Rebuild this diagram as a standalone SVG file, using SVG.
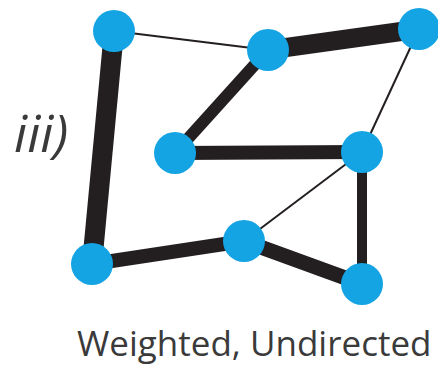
<svg xmlns="http://www.w3.org/2000/svg" width="438" height="368" viewBox="0 0 438 368">
  <style>
    .edge { stroke: #231f20; fill: none; stroke-linecap: butt; }
    .node circle { fill: #15a4e3; }
    .label { font-family: "Open Sans", "Liberation Sans", sans-serif; fill: #3a3a3a; }
  </style>
  <rect width="438" height="368" fill="#ffffff"/>
  <g id="connectors">
    <line class="edge" x1="114" y1="31" x2="268" y2="50" stroke-width="2"/>
    <line class="edge" x1="268" y1="50" x2="419" y2="29" stroke-width="19"/>
    <line class="edge" x1="419" y1="29" x2="362" y2="152" stroke-width="2"/>
    <line class="edge" x1="268" y1="50" x2="175" y2="153" stroke-width="12"/>
    <line class="edge" x1="175" y1="153" x2="362" y2="152" stroke-width="14"/>
    <line class="edge" x1="362" y1="152" x2="244" y2="241" stroke-width="2"/>
    <line class="edge" x1="362" y1="152" x2="362" y2="284" stroke-width="10"/>
    <line class="edge" x1="114" y1="31" x2="92" y2="264" stroke-width="20"/>
    <line class="edge" x1="92" y1="264" x2="244" y2="241" stroke-width="14"/>
    <line class="edge" x1="244" y1="241" x2="362" y2="284" stroke-width="15"/>
  </g>
  <g id="node-a" class="node"><circle cx="114" cy="31" r="21"/></g>
  <g id="node-b" class="node"><circle cx="268" cy="50" r="21"/></g>
  <g id="node-c" class="node"><circle cx="419" cy="29" r="21"/></g>
  <g id="node-d" class="node"><circle cx="175" cy="153" r="21"/></g>
  <g id="node-e" class="node"><circle cx="362" cy="152" r="21"/></g>
  <g id="node-f" class="node"><circle cx="92" cy="264" r="21"/></g>
  <g id="node-g" class="node"><circle cx="244" cy="241" r="21"/></g>
  <g id="node-h" class="node"><circle cx="362" cy="284" r="21"/></g>
  <text class="label" x="14" y="152" font-size="52" font-style="italic">iii)</text>
  <text class="label" x="77" y="356" font-size="35">Weighted, Undirected</text>
</svg>
